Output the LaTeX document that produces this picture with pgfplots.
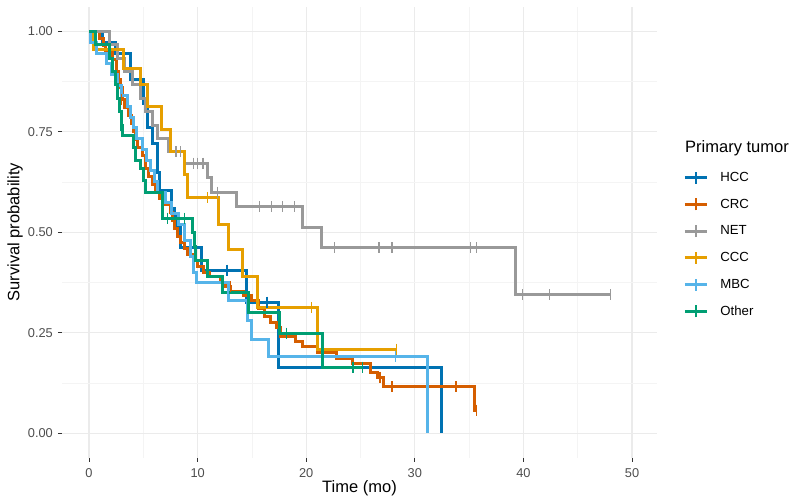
\documentclass[border=0pt]{standalone}
\usepackage{fontspec}
\setmainfont{Liberation Sans}
\usepackage{pgfplots}
\pgfplotsset{compat=1.18}
\definecolor{cHCC}{HTML}{0072B2}
\definecolor{cCRC}{HTML}{D55E00}
\definecolor{cNET}{HTML}{999999}
\definecolor{cCCC}{HTML}{E69F00}
\definecolor{cMBC}{HTML}{56B4E9}
\definecolor{cOTH}{HTML}{009E73}
\definecolor{gridmaj}{HTML}{EBEBEB}
\definecolor{gridmin}{HTML}{F4F4F4}
\definecolor{ticklab}{HTML}{4D4D4D}
\definecolor{tickcol}{HTML}{333333}
\begin{document}
\begin{tikzpicture}
\useasboundingbox (0pt,0pt) rectangle (796pt,498pt);
\begin{axis}[
  at={(62pt,40pt)}, anchor=south west,
  scale only axis, width=595pt, height=451.4pt,
  xmin=-2.49, xmax=52.3, ymin=-0.062, ymax=1.062,
  axis line style={draw=none},
  tick pos=left,
  xtick={0,10,20,30,40,50}, minor xtick={5,15,25,35,45},
  ytick={0,0.25,0.5,0.75,1}, minor ytick={0.125,0.375,0.625,0.875},
  grid=both,
  major grid style={gridmaj, line width=1.1pt},
  minor grid style={gridmin, line width=0.6pt},
  tick align=outside, major tick length=4pt, minor tick length=0pt,
  tick style={tickcol, line width=1pt},
  /pgf/number format/assume math mode=true,
  yticklabel={\pgfmathprintnumber[fixed,fixed zerofill,precision=2]{\tick}},
  ticklabel style={font=\fontsize{12.8}{12.8}\selectfont, text=ticklab},
  yticklabel style={inner sep=0pt, xshift=-5pt},
  xticklabel style={inner sep=0pt, yshift=-6pt},
  xlabel={Time (mo)}, ylabel={Survival probability},
  every axis x label/.style={at={(axis description cs:0.5,-0.068)}, anchor=center, font=\fontsize{16.5}{16.5}\selectfont},
  every axis y label/.style={at={(axis description cs:-0.079,0.5)}, anchor=center, rotate=90, font=\fontsize{16.5}{16.5}\selectfont},
  legend style={at={(axis description cs:1.044,0.636)}, anchor=north west, draw=none, fill=none,
    font=\fontsize{13.2}{13.2}\selectfont, row sep=13.4pt, inner sep=0pt,
    nodes={inner sep=0pt, anchor=west},
    /tikz/every odd column/.append style={column sep=12pt}},
  legend cell align=left,
  legend image code/.code={\draw[#1, line width=3pt] (0pt,0pt) -- (22pt,0pt); \draw[#1, line width=1.3pt] (11pt,-6pt) -- (11pt,6pt);},
  every axis plot/.append style={line width=3pt},
  censor/.style={only marks, mark=|, mark size=5.5pt, mark options={line width=1.3pt}, forget plot},
]
% HCC
\addplot[cHCC, const plot] coordinates {(0,1)(1.2,0.973)(2.4,0.946)(3.8,0.88)(5.0,0.82)(5.4,0.76)(5.8,0.72)(6.3,0.65)(6.5,0.605)(7.6,0.56)(7.9,0.54)(8.1,0.515)(8.4,0.463)(10.4,0.406)(14.5,0.326)(17.4,0.164)(32.5,0)};
\addlegendentry{HCC}
\addplot[cHCC, censor] coordinates {(12.7,0.406)(16.4,0.326)};
% CRC
\addplot[cCRC, const plot] coordinates {(0,1)(1.0,0.983)(1.3,0.966)(1.5,0.95)(2.2,0.93)(2.5,0.90)(2.7,0.88)(2.9,0.86)(3.1,0.83)(3.3,0.81)(3.6,0.79)(3.9,0.77)(4.1,0.75)(4.3,0.73)(4.5,0.71)(4.9,0.69)(5.2,0.66)(5.5,0.64)(5.8,0.62)(6.1,0.60)(6.5,0.585)(6.8,0.57)(7.5,0.55)(7.7,0.53)(7.9,0.51)(8.1,0.49)(8.4,0.475)(8.8,0.46)(9.1,0.445)(9.6,0.43)(10.0,0.415)(10.5,0.40)(11.1,0.39)(12.1,0.376)(12.6,0.365)(13.0,0.352)(14.2,0.343)(15.0,0.331)(15.6,0.31)(16.2,0.29)(16.7,0.275)(17.3,0.262)(17.6,0.24)(19.0,0.227)(19.7,0.215)(21.0,0.20)(22.8,0.186)(24.3,0.174)(25.9,0.15)(26.6,0.139)(27.1,0.115)(35.5,0.057)(35.7,0.057)};
\addlegendentry{CRC}
\addplot[cCRC, censor] coordinates {(3.0,0.83)(13.0,0.365)(26.8,0.139)(27.9,0.115)(33.8,0.115)(35.7,0.057)};
% NET
\addplot[cNET, const plot] coordinates {(0,1.0)(1.9,0.967)(2.6,0.933)(3.3,0.90)(4.0,0.867)(4.7,0.833)(5.2,0.80)(5.8,0.767)(6.3,0.733)(7.3,0.70)(8.8,0.672)(10.9,0.636)(11.3,0.60)(13.6,0.563)(19.7,0.513)(21.4,0.461)(39.3,0.345)(48.0,0.345)};
\addlegendentry{NET}
\addplot[cNET, censor] coordinates {(8.0,0.70)(8.4,0.70)(9.6,0.672)(10.0,0.672)(10.5,0.672)(11.8,0.60)(15.7,0.563)(16.8,0.563)(17.8,0.563)(18.9,0.563)(22.6,0.461)(26.7,0.461)(27.9,0.461)(35.1,0.461)(35.7,0.461)(39.9,0.345)(42.4,0.345)(48.0,0.345)};
% CCC
\addplot[cCCC, const plot] coordinates {(0,1)(0.4,0.955)(3.2,0.909)(4.7,0.867)(5.4,0.812)(6.7,0.757)(7.5,0.70)(8.8,0.643)(9.1,0.586)(11.9,0.52)(12.8,0.456)(14.1,0.390)(15.5,0.312)(21.0,0.209)(28.3,0.209)};
\addlegendentry{CCC}
\addplot[cCCC, censor] coordinates {(10.9,0.586)(20.5,0.312)(28.3,0.209)};
% MBC
\addplot[cMBC, const plot] coordinates {(0,1)(0.1,0.973)(0.7,0.946)(1.6,0.92)(2.1,0.893)(2.6,0.866)(3.0,0.84)(3.5,0.813)(3.8,0.786)(4.1,0.76)(4.4,0.733)(4.9,0.706)(5.3,0.68)(5.7,0.653)(6.0,0.626)(6.3,0.60)(7.0,0.573)(7.6,0.546)(8.2,0.52)(8.8,0.48)(9.3,0.44)(9.6,0.40)(9.9,0.374)(12.8,0.331)(14.6,0.281)(15.0,0.233)(16.5,0.19)(31.2,0)};
\addlegendentry{MBC}
\addplot[cMBC, censor] coordinates {(12.8,0.34)(28.2,0.19)};
% Other
\addplot[cOTH, const plot] coordinates {(0,1)(0.6,0.967)(1.9,0.933)(2.2,0.90)(2.4,0.867)(2.6,0.833)(2.8,0.80)(3.0,0.767)(3.1,0.74)(4.1,0.71)(4.3,0.68)(4.7,0.66)(5.0,0.63)(5.2,0.598)(6.8,0.535)(9.5,0.50)(9.7,0.465)(9.8,0.43)(10.9,0.39)(12.3,0.349)(14.7,0.30)(17.5,0.249)(21.5,0.164)(25.2,0.164)};
\addlegendentry{Other}
\addplot[cOTH, censor] coordinates {(2.9,0.767)(7.2,0.535)(8.8,0.535)(18.2,0.249)(24.3,0.164)(25.2,0.164)};
\end{axis}
\node[anchor=west, font=\fontsize{16.5}{16.5}\selectfont, inner sep=0pt] at (685pt,350pt) {Primary tumor};
\end{tikzpicture}
\end{document}
